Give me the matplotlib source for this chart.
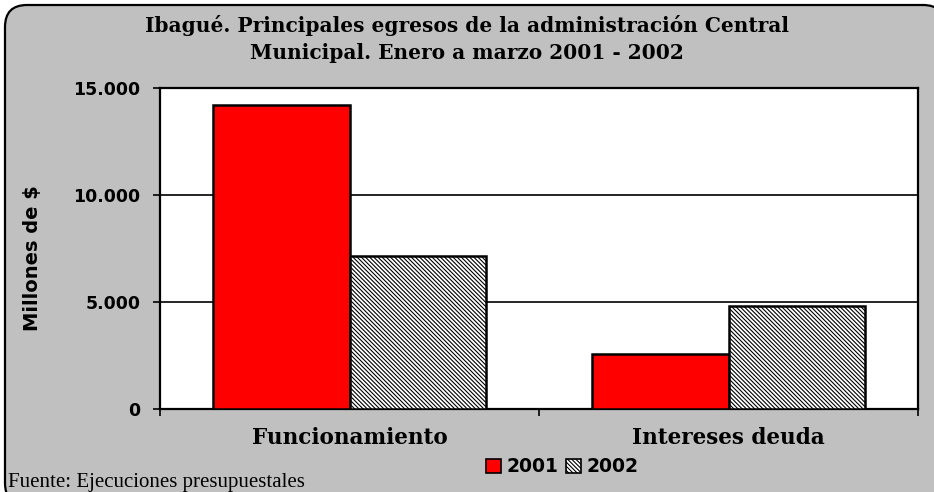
import matplotlib
matplotlib.use("Agg")
import matplotlib.pyplot as plt
from matplotlib.patches import FancyBboxPatch, Patch
from matplotlib.ticker import FuncFormatter

# data
categorias = ["Funcionamiento", "Intereses deuda"]
anios = ["2001", "2002"]
valores_2001 = [14200, 2550]
valores_2002 = [7150, 4800]

gris = "#c0c0c0"
rojo = "#ff0000"
plt.rcParams["hatch.linewidth"] = 0.8
rayado = "\\\\\\\\\\\\\\\\"

fig = plt.figure(figsize=(9.34, 4.92), dpi=100)
fig.patch.set_facecolor("white")

# rounded gray frame behind everything
bg = fig.add_axes([0, 0, 1, 1], zorder=0)
bg.set_xlim(0, 934)
bg.set_ylim(492, 0)
bg.axis("off")
bg.add_patch(FancyBboxPatch((5, 5), 940, 500, boxstyle="round,pad=0,rounding_size=22",
                            facecolor=gris, edgecolor="black", linewidth=1.6))

ax = fig.add_axes([160 / 934, 83 / 492, 758 / 934, 321 / 492], zorder=1)
ax.set_facecolor("white")

w = 0.36
x = [0.5, 1.5]
ax.bar([i - w / 2 for i in x], valores_2001, w, color=rojo, edgecolor="black",
       linewidth=1.8, zorder=3)
ax.bar([i + w / 2 for i in x], valores_2002, w, color="white", edgecolor="black",
       hatch=rayado, linewidth=1.8, zorder=3)

ax.set_xlim(0, 2)
ax.set_ylim(0, 15000)
ax.set_yticks([0, 5000, 10000, 15000])
ax.yaxis.set_major_formatter(FuncFormatter(lambda v, p: f"{int(v):,}".replace(",", ".")))
ax.grid(axis="y", color="black", linewidth=1.2, zorder=1)
ax.set_axisbelow(True)

ax.set_xticks([0, 1, 2])
ax.set_xticklabels(["", "", ""])
ax.set_xticks(x, minor=True)
ax.set_xticklabels(categorias, minor=True, family="DejaVu Serif",
                   fontweight="bold", fontsize=15.5)
ax.tick_params(axis="x", which="minor", length=0, pad=13)
ax.tick_params(axis="x", which="major", length=5, width=1.2, direction="out")
ax.tick_params(axis="y", length=5, width=1.2, direction="out", pad=9)
for lab in ax.get_yticklabels():
    lab.set_fontweight("bold")
    lab.set_fontsize(12.5)

for s in ax.spines.values():
    s.set_linewidth(1.6)
    s.set_color("black")

ax.set_ylabel("Millones de $", fontsize=14, fontweight="bold")
ax.yaxis.set_label_coords(-0.156, 0.47)

fig.text(0.5, 1 - 25 / 492, "Ibagué. Principales egresos de la administración Central",
         ha="center", va="center", family="DejaVu Serif", fontweight="bold", fontsize=14.5)
fig.text(0.5, 1 - 53 / 492, "Municipal. Enero a marzo 2001 - 2002",
         ha="center", va="center", family="DejaVu Serif", fontweight="bold", fontsize=14.5)

fig.text(8 / 934, 1 - 483 / 492, "Fuente: Ejecuciones presupuestales",
         ha="left", va="center", family="Liberation Serif", fontsize=15)

handles = [Patch(facecolor=rojo, edgecolor="black", linewidth=1.2),
           Patch(facecolor="white", edgecolor="black", hatch=rayado, linewidth=1.2)]
leg = fig.legend(handles, anios, loc="center", bbox_to_anchor=(562 / 934, 1 - 467 / 492),
                 ncol=2, frameon=False, handlelength=0.8, handleheight=0.8,
                 handletextpad=0.3, columnspacing=0.4,
                 prop={"weight": "bold", "size": 13.5})

fig.savefig("out.png", dpi=100, facecolor=fig.get_facecolor())
